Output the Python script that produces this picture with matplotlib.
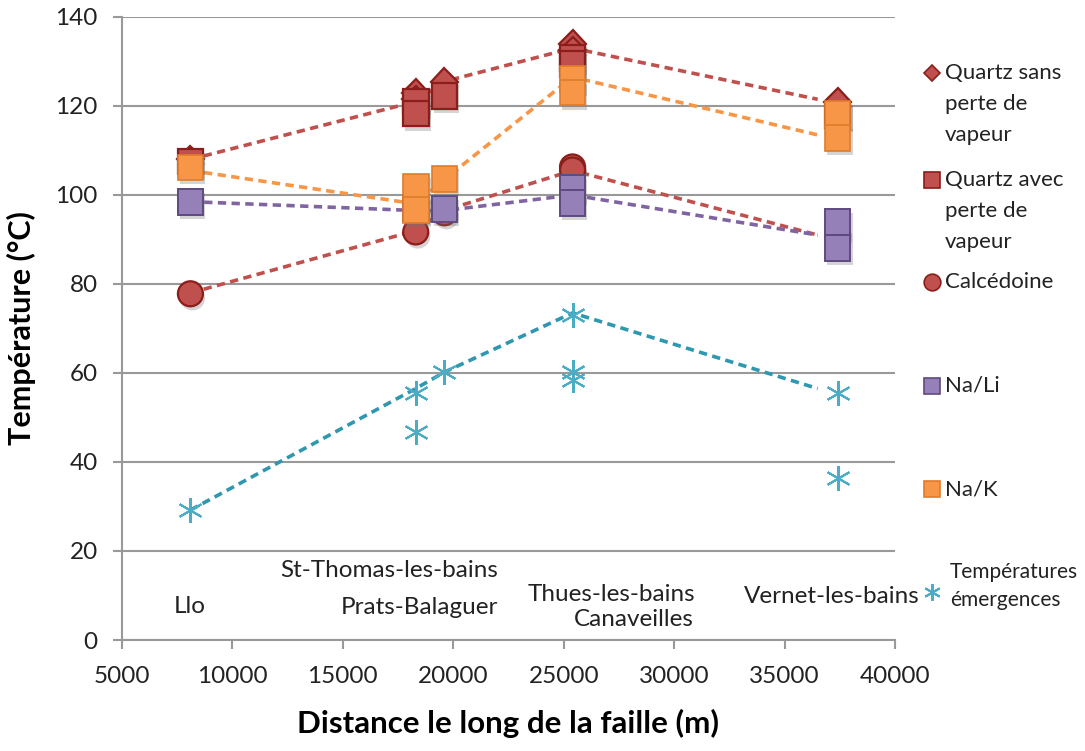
import numpy as np
import matplotlib
matplotlib.use("Agg")
import matplotlib.pyplot as plt
import matplotlib.patheffects as pe
from matplotlib.lines import Line2D

plt.rcParams['font.family'] = ['Lato', 'DejaVu Sans']

# sites along the fault (m)
x_llo, x_stt, x_prats, x_thues, x_vernet = 8100, 18300, 19600, 25400, 37400

# geothermometer estimates (°C)
qz_sans_x = [x_llo, x_stt, x_stt, x_prats, x_thues, x_thues, x_vernet]
qz_sans_y = [108, 123, 121.5, 125.5, 134, 132.5, 121]

qz_avec_x = [x_llo, x_stt, x_stt, x_prats, x_thues, x_thues, x_vernet]
qz_avec_y = [107.5, 121, 118.3, 122.3, 130.8, 129.5, 118]

calc_x = [x_llo, x_stt, x_prats, x_thues, x_thues, x_vernet]
calc_y = [77.8, 91.7, 96, 106.3, 105.6, 91]

nali_x = [x_llo, x_stt, x_prats, x_thues, x_thues, x_vernet, x_vernet]
nali_y = [98.4, 97, 96.9, 101.6, 98.2, 93.9, 88.1]

nak_x = [x_llo, x_stt, x_stt, x_prats, x_thues, x_thues, x_vernet, x_vernet]
nak_y = [106.2, 101.8, 96.6, 103.6, 126, 123, 118.2, 112.8]

emerg_x = [x_llo, x_stt, x_stt, x_prats, x_thues, x_thues, x_thues, x_vernet, x_vernet]
emerg_y = [29.2, 55.5, 46.7, 60.2, 73, 60.2, 58.4, 55.5, 36.4]

# dashed trend lines (hand-drawn in the original, ending short of Vernet)
trend_x = [x_llo, x_stt, x_prats, x_thues, 36500]
trend_qz = [108, 121, 125.5, 133, 121.5]
trend_nak = [105.5, 98, 103.5, 126.5, 113.5]
trend_calc = [78, 92, 96.5, 105.5, 91]
trend_nali = [98.5, 96.5, 96.5, 100, 91]
trend_emerg = [29.2, 56.5, 60.2, 73.5, 56.5]

sites = ["Llo", "St-Thomas-les-bains", "Prats-Balaguer", "Thues-les-bains",
         "Canaveilles", "Vernet-les-bains"]
site_x = [8080, 17100, 18450, 27180, 28180, 37140]
site_y = [7.6, 15.7, 7.4, 10.3, 4.6, 9.7]

RED, RED_E = "#C0504D", "#8B1E1B"
ORANGE, ORANGE_E = "#F79646", "#E07C2A"
PURPLE, PURPLE_E = "#9580B8", "#5F4A80"
TEAL = "#4BACC6"
TEAL_L = "#2F97B0"

fig = plt.figure(figsize=(10.85, 7.51), dpi=100)
ax = fig.add_axes([0.1124, 0.1478, 0.7125, 0.8296])

shadow = [pe.SimplePatchShadow(offset=(1.5, -3), shadow_rgbFace="0.45", alpha=0.3),
          pe.Normal()]

for ty, c in [(trend_qz, RED), (trend_nak, ORANGE), (trend_calc, RED),
              (trend_nali, "#8064A2"), (trend_emerg, TEAL_L)]:
    ax.plot(trend_x, ty, ls=(0, (2.3, 1.5)), color=c, lw=2.6, zorder=2)

ax.plot(qz_sans_x, qz_sans_y, ls="none", marker="D", ms=14, mfc=RED, mec=RED_E,
        mew=1.6, zorder=3, path_effects=shadow)
ax.plot(qz_avec_x, qz_avec_y, ls="none", marker="s", ms=18.5, mfc=RED, mec=RED_E,
        mew=1.6, zorder=4, path_effects=shadow)
ax.plot(calc_x, calc_y, ls="none", marker="o", ms=18, mfc=RED, mec=RED_E,
        mew=1.6, zorder=5, path_effects=shadow)
ax.plot(nali_x, nali_y, ls="none", marker="s", ms=18.5, mfc=PURPLE, mec=PURPLE_E,
        mew=1.4, zorder=6, path_effects=shadow)
ax.plot(nak_x, nak_y, ls="none", marker="s", ms=18.5, mfc=ORANGE, mec=ORANGE_E,
        mew=1.2, zorder=7, path_effects=shadow)
ax.plot(emerg_x, emerg_y, ls="none", marker=(6, 2, 0), ms=18, mec=TEAL,
        mew=1.5, zorder=8)

for name, sx, sy in zip(sites, site_x, site_y):
    ax.text(sx, sy, name, ha="center", va="center", fontsize=17.5, color="#222222")

ax.set_xlim(5000, 40000)
ax.set_ylim(0, 140)
ax.set_xticks(np.arange(5000, 40001, 5000))
ax.set_yticks(np.arange(0, 141, 20))
ax.yaxis.grid(True, color="#999999", lw=1.5)
ax.set_axisbelow(True)
for s in ["top", "right"]:
    ax.spines[s].set_visible(False)
for s in ["left", "bottom"]:
    ax.spines[s].set_color("#999999")
    ax.spines[s].set_linewidth(1.5)
ax.tick_params(axis="both", direction="out", length=6.5, width=1.5, color="#999999",
               labelsize=17.5, labelcolor="#222222")
ax.tick_params(axis="y", pad=11)
ax.tick_params(axis="x", pad=12)

ax.set_ylabel("Température (°C)", fontsize=22, fontweight="bold", labelpad=14)
ax.set_xlabel("Distance le long de la faille (m)", fontsize=22.5, fontweight="bold", labelpad=16)

# legend, laid out like the original spreadsheet legend
W, H = 1085, 751
def fx(px):
    return px / W
def fy(py):
    return 1 - py / H

leg = [
    ("D", RED, RED_E, 8, 73, ["Quartz sans", "perte de", "vapeur"]),
    ("s", RED, RED_E, 12, 180, ["Quartz avec", "perte de", "vapeur"]),
    ("o", RED, RED_E, 12, 282, ["Calcédoine"]),
    ("s", PURPLE, PURPLE_E, 12, 386, ["Na/Li"]),
    ("s", ORANGE, ORANGE_E, 12, 489, ["Na/K"]),
]
for mk, fc, ec, ms, py, lines in leg:
    fig.add_artist(Line2D([fx(932)], [fy(py)], marker=mk, ms=ms, mfc=fc, mec=ec,
                          mew=1.2, ls="none", transform=fig.transFigure))
    for i, t in enumerate(lines):
        fig.text(fx(945), fy(py + 31 * i), t, fontsize=16, va="center", ha="left",
                 color="#222222")
fig.add_artist(Line2D([fx(932)], [fy(592)], marker=(6, 2, 0), ms=12, mec=TEAL,
                      mew=1.5, ls="none", transform=fig.transFigure))
fig.text(fx(950), fy(572), "Températures", fontsize=15, va="center", ha="left", color="#222222")
fig.text(fx(950), fy(600), "émergences", fontsize=15, va="center", ha="left", color="#222222")

fig.savefig("out.png", dpi=100)
